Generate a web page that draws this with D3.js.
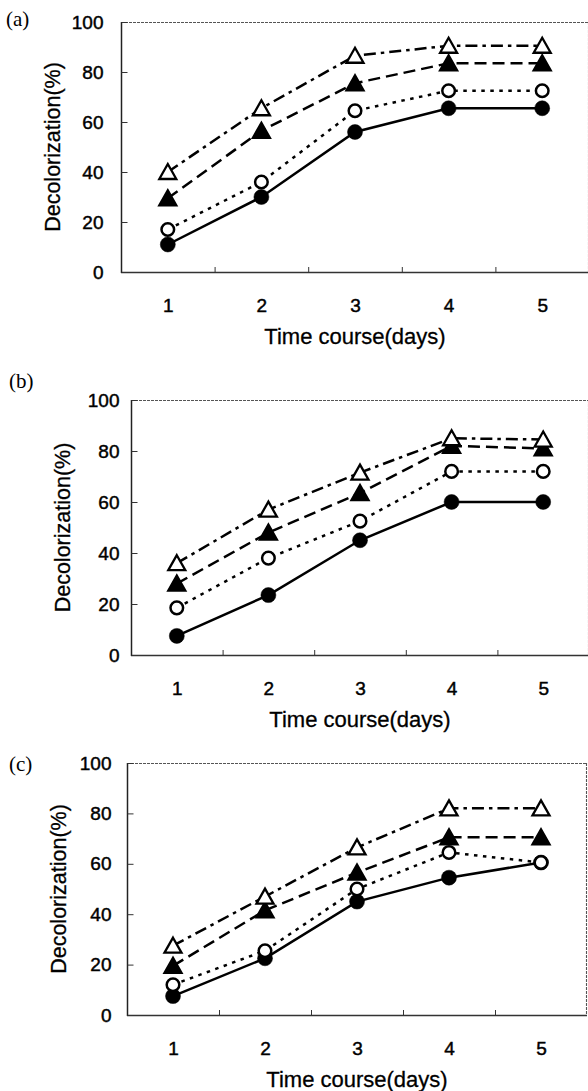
<!DOCTYPE html>
<html>
<head>
<meta charset="utf-8">
<script src="https://cdn.jsdelivr.net/npm/d3@7"></script>
<style>
  html, body { margin: 0; padding: 0; background: #fff; }
  svg { display: block; }
</style>
</head>
<body>
<svg id="chart" width="588" height="1091"></svg>
<script>
// ---- data ----
const days = ["1", "2", "3", "4", "5"];
const yTicks = [0, 20, 40, 60, 80, 100];
const panelLabels = ["(a)", "(b)", "(c)"];
const xTitle = "Time course(days)";
const yTitle = "Decolorization(%)";

const a_filledCircle   = [11, 30, 56, 65.5, 65.5];
const a_openCircle     = [17, 36, 64.5, 72.5, 72.5];
const a_filledTriangle = [29.5, 56.5, 75.5, 83.5, 83.5];
const a_openTriangle   = [40, 65.5, 86.5, 90.5, 90.5];

const b_filledCircle   = [7.5, 23.5, 45, 60, 60];
const b_openCircle     = [18.5, 38, 52.5, 72, 72];
const b_filledTriangle = [28, 48, 63.5, 82, 81];
const b_openTriangle   = [36, 57, 71.5, 85, 84.5];

const c_filledCircle   = [7.5, 22.5, 45, 54.5, 60.5];
const c_openCircle     = [12, 25.5, 50, 64.5, 60.5];
const c_filledTriangle = [19.5, 41.5, 56.5, 70.5, 70.5];
const c_openTriangle   = [27.5, 47, 66.5, 82, 82];

// ---- layout (styles / geometry kept separate from data) ----
const panels = [
  { label: panelLabels[0], left: 121, top: 22,  bottom: 272,  right: 589, lx: 6, ly: 26, tickPad: 18,
    series: [a_filledCircle, a_openCircle, a_filledTriangle, a_openTriangle] },
  { label: panelLabels[1], left: 131, top: 400, bottom: 655,  right: 589, lx: 9, ly: 388, tickPad: 12,
    series: [b_filledCircle, b_openCircle, b_filledTriangle, b_openTriangle] },
  { label: panelLabels[2], left: 127, top: 763, bottom: 1015, right: 587, lx: 9, ly: 771, tickPad: 16,
    series: [c_filledCircle, c_openCircle, c_filledTriangle, c_openTriangle] }
];

const seriesStyle = [
  { dash: null,            marker: "circle",   fill: "#000" },
  { dash: "3.5,5.5",       marker: "circle",   fill: "#fff" },
  { dash: "12,6",          marker: "triangle", fill: "#000" },
  { dash: "12,5,3.5,5",    marker: "triangle", fill: "#fff" }
];

const svg = d3.select("#chart");
const sans = "'Liberation Sans', Arial, Helvetica, sans-serif";

panels.forEach(p => {
  const g = svg.append("g");
  const x = d3.scalePoint().domain(days).range([p.left, p.right]).padding(0.5);
  const xb = d3.scaleBand().domain(days).range([p.left, p.right]);
  const y = d3.scaleLinear().domain([0, 100]).range([p.bottom, p.top]);

  // frame
  g.append("line").attr("x1", p.left).attr("x2", p.right).attr("y1", p.top + 0.5).attr("y2", p.top + 0.5)
    .attr("stroke", "#555").attr("stroke-width", 1.1).attr("stroke-dasharray", "3,1");
  g.append("line").attr("x1", p.right - 0.5).attr("x2", p.right - 0.5).attr("y1", p.top).attr("y2", p.bottom)
    .attr("stroke", "#555").attr("stroke-width", 1.1).attr("stroke-dasharray", "3,1");
  g.append("line").attr("x1", p.left).attr("x2", p.right).attr("y1", p.bottom + 0.5).attr("y2", p.bottom + 0.5)
    .attr("stroke", "#333").attr("stroke-width", 1.3);
  g.append("line").attr("x1", p.left + 0.5).attr("x2", p.left + 0.5).attr("y1", p.top).attr("y2", p.bottom + 1)
    .attr("stroke", "#222").attr("stroke-width", 1.5);

  // y axis
  const ya = g.append("g").attr("transform", `translate(${p.left + 0.5},0)`)
    .call(d3.axisLeft(y).tickValues(yTicks).tickSizeInner(-6).tickSizeOuter(0).tickPadding(p.tickPad));
  ya.select(".domain").remove();
  ya.attr("font-size", 19).attr("font-family", sans);
  ya.selectAll("text").attr("fill", "#000").attr("stroke", "#000").attr("stroke-width", 0.45);
  ya.selectAll("line").attr("stroke", "#333").attr("stroke-width", 1);

  // x axis labels
  const xa = g.append("g").attr("transform", `translate(0,${p.bottom})`)
    .call(d3.axisBottom(x).tickSize(0).tickPadding(26.5));
  xa.select(".domain").remove();
  xa.attr("font-size", 19).attr("font-family", sans);
  xa.selectAll("text").attr("fill", "#000").attr("stroke", "#000").attr("stroke-width", 0.45);

  // x ticks at band boundaries (inward)
  g.selectAll(".xb").data(days.slice(1)).enter().append("line")
    .attr("x1", d => xb(d) + 0.5).attr("x2", d => xb(d) + 0.5)
    .attr("y1", p.bottom).attr("y2", p.bottom - 5)
    .attr("stroke", "#333").attr("stroke-width", 1);

  // titles
  g.append("text").attr("x", (p.left + p.right) / 2).attr("y", p.bottom + 72)
    .attr("text-anchor", "middle").attr("font-family", sans).attr("font-size", 22)
    .attr("stroke", "#000").attr("stroke-width", 0.3).text(xTitle);
  g.append("text").attr("transform", `translate(${p.left - 61},${(p.top + p.bottom) / 2}) rotate(-90)`)
    .attr("text-anchor", "middle").attr("font-family", sans).attr("font-size", 21.5)
    .attr("stroke", "#000").attr("stroke-width", 0.3).text(yTitle);
  g.append("text").attr("x", p.lx).attr("y", p.ly)
    .attr("font-family", "'Liberation Serif', 'Times New Roman', serif").attr("font-size", 21).text(p.label);

  // lines
  const line = d3.line().x((d, i) => x(days[i])).y(d => y(d));
  p.series.forEach((vals, si) => {
    const st = seriesStyle[si];
    g.append("path").datum(vals).attr("d", line)
      .attr("fill", "none").attr("stroke", "#000").attr("stroke-width", 2.5)
      .attr("stroke-dasharray", st.dash);
  });

  // markers
  const tri = "M0,-8L8.5,7L-8.5,7Z";
  p.series.forEach((vals, si) => {
    const st = seriesStyle[si];
    const mg = g.append("g");
    if (st.marker === "circle") {
      mg.selectAll("circle").data(vals).enter().append("circle")
        .attr("cx", (d, i) => x(days[i])).attr("cy", d => y(d))
        .attr("r", st.fill === "#000" ? 7.5 : 6.3)
        .attr("fill", st.fill).attr("stroke", "#000").attr("stroke-width", st.fill === "#000" ? 0.5 : 2.5);
    } else {
      mg.selectAll("path").data(vals).enter().append("path")
        .attr("transform", (d, i) => `translate(${x(days[i])},${y(d)})`)
        .attr("d", tri)
        .attr("fill", st.fill).attr("stroke", "#000").attr("stroke-width", 2.3).attr("stroke-linejoin", "miter");
    }
  });
});
</script>
</body>
</html>
